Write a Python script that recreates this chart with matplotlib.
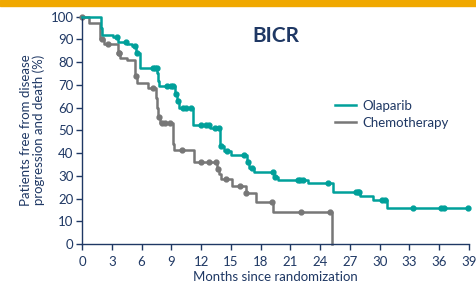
import matplotlib.pyplot as plt
import numpy as np
from matplotlib.patches import Rectangle

# Дані кривих Каплана-Мейєра (місяці, % без прогресування)
ola_times = [0, 1.9, 2.0, 3.1, 3.6, 4.5, 5.0, 5.4, 5.8, 7.6, 7.7, 7.8, 9.4, 9.6, 9.8,
             11.2, 12.9, 13.9, 14.3, 15.0, 16.6, 16.8, 17.3, 19.3, 19.8, 22.8, 25.3,
             28.0, 29.3, 30.7, 38.9]
ola_vals = [100, 95, 92, 91, 89, 88, 87, 84, 77.5, 75, 71.5, 69.5, 66, 63, 60,
            52.5, 51, 43, 41, 39, 36, 33.5, 31.5, 29.5, 28, 27, 23,
            21, 19.5, 16, 16]
ola_cens = [3.5, 4.4, 5.3, 5.5, 7.2, 7.4, 7.55, 8.6, 9.0, 9.2, 9.5, 9.7, 10.2, 10.5,
            11.0, 12.0, 12.5, 12.8, 13.4, 13.8, 14.0, 14.6, 16.3, 16.7, 17.1, 19.2,
            19.5, 21.8, 22.0, 22.3, 24.8, 27.6, 27.8, 27.9, 30.2, 30.5, 33.4, 36.2,
            36.5, 38.9]

chemo_times = [0, 0.7, 1.8, 2.2, 3.6, 3.8, 4.5, 5.3, 5.5, 6.7, 7.5, 7.6, 7.7, 7.9,
               9.2, 9.3, 11.3, 13.6, 13.8, 14.0, 15.1, 16.5, 17.5, 19.2, 25.2, 25.2]
chemo_vals = [100, 97, 90, 88, 84, 82, 81, 74, 71, 68.5, 64, 60, 56, 53,
              44, 41.5, 36, 33, 31, 28.5, 25.5, 22.5, 18.5, 14, 14, 0]
chemo_cens = [0.0, 2.0, 2.6, 3.7, 3.75, 5.45, 7.2, 7.8, 8.1, 8.4, 8.9, 10.1, 12.0,
              12.8, 13.5, 13.75, 14.5, 15.9, 16.55, 19.15, 22.1, 25.0]

x_ticks = list(range(0, 40, 3))
y_ticks = list(range(0, 101, 10))

teal = "#00A09A"
grey = "#777777"
navy = "#1F3864"


def level_at(t, times, vals):
    i = np.searchsorted(times, t, side="right") - 1
    return vals[max(i, 0)]


plt.rcParams['font.family'] = ['Lato', 'DejaVu Sans']

fig = plt.figure(figsize=(4.77, 2.86), dpi=100)
fig.patches.append(Rectangle((0, 1 - 5.5 / 286), 1, 5.5 / 286, transform=fig.transFigure,
                             color="#F0A800", zorder=0))

ax = fig.add_axes([82 / 477, 1 - 244 / 286, 387 / 477, 227.4 / 286])

ax.step(ola_times, ola_vals, where="post", color=teal, lw=1.8, clip_on=False, zorder=3,
        label="Olaparib")
ax.plot(ola_cens, [level_at(t, ola_times, ola_vals) for t in ola_cens], "o", color=teal,
        ms=3.5, clip_on=False, zorder=3)

ax.step(chemo_times, chemo_vals, where="post", color=grey, lw=1.8, clip_on=False, zorder=2,
        label="Chemotherapy")
ax.plot(chemo_cens, [level_at(t, chemo_times, chemo_vals) for t in chemo_cens], "o",
        color=grey, ms=3.5, clip_on=False, zorder=2)

ax.set_xlim(0, 39)
ax.set_ylim(0, 100)
ax.set_xticks(x_ticks)
ax.set_yticks(y_ticks)
for s in ["top", "right"]:
    ax.spines[s].set_visible(False)
for s in ["left", "bottom"]:
    ax.spines[s].set_color(navy)
    ax.spines[s].set_linewidth(1.0)
ax.tick_params(colors=navy, labelsize=9.5, length=4, width=1.0, pad=2)
ax.tick_params(axis="x", pad=5)

ax.set_xlabel("Months since randomization", color=navy, fontsize=9.5, labelpad=2)
ax.set_ylabel("Patients free from disease\nprogression and death (%)", color=navy,
              fontsize=9.5, labelpad=4, linespacing=1.05)

fig.text(276 / 477, 1 - 36 / 286, "BICR", fontsize=15, fontweight="bold", color=navy,
         ha="center", va="center")
ax.legend(loc="upper left", bbox_to_anchor=(335 / 477, 1 - 100 / 286),
          bbox_transform=fig.transFigure, frameon=False, fontsize=9.5, borderpad=0,
          handlelength=1.6, handletextpad=0.5, labelcolor=navy, borderaxespad=0,
          labelspacing=0.35)

fig.savefig("out.png", dpi=100)
plt.close()
